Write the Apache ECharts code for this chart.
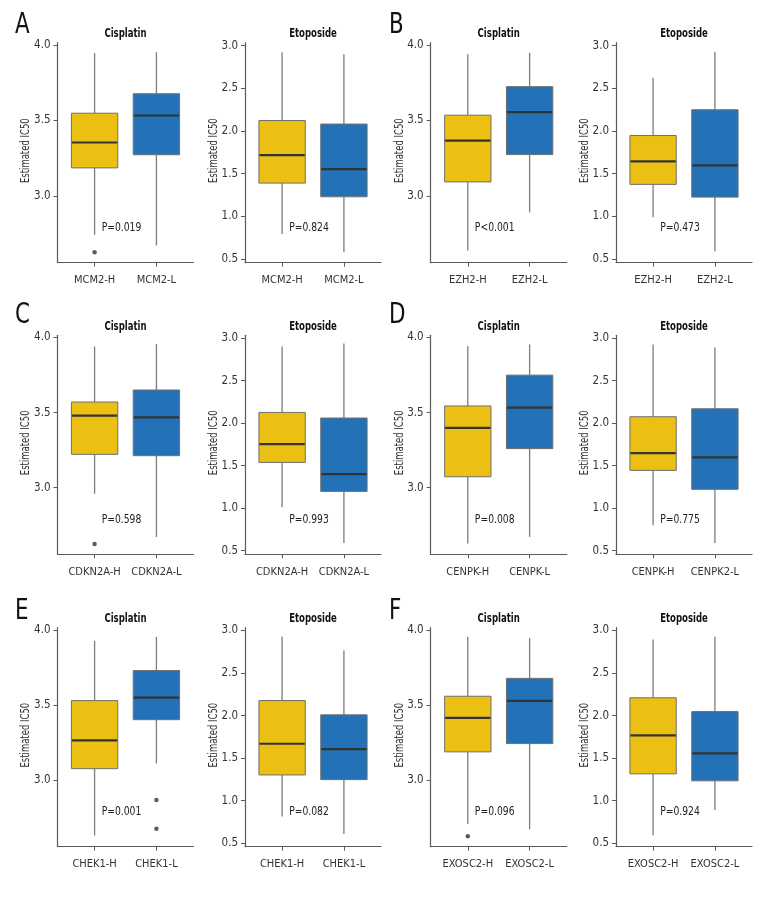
<!DOCTYPE html>
<html>
<head>
<meta charset="utf-8">
<script src="https://cdn.jsdelivr.net/npm/echarts@6/dist/echarts.min.js"></script>
<style>
  html, body { margin: 0; padding: 0; background: #fff; }
  #chart { width: 780px; height: 900px; }
</style>
</head>
<body>
<div id="chart"></div>
<script>
// ---------------- data ----------------
const panelLetters = ['A', 'B', 'C', 'D', 'E', 'F'];
const drugs = ['Cisplatin', 'Etoposide'];
const cisplatinGroups = [
  ['MCM2-H', 'MCM2-L'],
  ['EZH2-H', 'EZH2-L'],
  ['CDKN2A-H', 'CDKN2A-L'],
  ['CENPK-H', 'CENPK-L'],
  ['CHEK1-H', 'CHEK1-L'],
  ['EXOSC2-H', 'EXOSC2-L']
];
const etoposideGroups = [
  ['MCM2-H', 'MCM2-L'],
  ['EZH2-H', 'EZH2-L'],
  ['CDKN2A-H', 'CDKN2A-L'],
  ['CENPK-H', 'CENPK2-L'],
  ['CHEK1-H', 'CHEK1-L'],
  ['EXOSC2-H', 'EXOSC2-L']
];
// [min, Q1, median, Q3, max]
const cisplatinH = [
  [2.742, 3.185, 3.353, 3.547, 3.945],
  [2.637, 3.092, 3.365, 3.534, 3.938],
  [2.960, 3.222, 3.479, 3.570, 3.940],
  [2.629, 3.073, 3.398, 3.544, 3.942],
  [2.631, 3.076, 3.264, 3.529, 3.927],
  [2.708, 3.188, 3.414, 3.558, 3.954]
];
const cisplatinL = [
  [2.671, 3.272, 3.532, 3.676, 3.951],
  [2.890, 3.273, 3.554, 3.723, 3.947],
  [2.672, 3.213, 3.468, 3.650, 3.956],
  [2.673, 3.260, 3.533, 3.749, 3.953],
  [3.111, 3.402, 3.549, 3.729, 3.953],
  [2.673, 3.243, 3.527, 3.677, 3.945]
];
const etoposideH = [
  [0.793, 1.389, 1.717, 2.122, 2.922],
  [0.990, 1.374, 1.644, 1.946, 2.624],
  [1.009, 1.538, 1.754, 2.126, 2.902],
  [0.798, 1.444, 1.648, 2.075, 2.926],
  [0.813, 1.301, 1.668, 2.176, 2.930],
  [0.590, 1.314, 1.766, 2.209, 2.895]
];
const etoposideL = [
  [0.582, 1.229, 1.553, 2.080, 2.899],
  [0.590, 1.225, 1.597, 2.248, 2.926],
  [0.590, 1.197, 1.401, 2.060, 2.937],
  [0.590, 1.221, 1.597, 2.169, 2.890],
  [0.605, 1.246, 1.605, 2.008, 2.766],
  [0.889, 1.232, 1.555, 2.046, 2.926]
];
const cisplatinOutliersH = [[2.627], [], [2.625], [], [], [2.626]];
const cisplatinOutliersL = [[], [], [], [], [2.867, 2.676], []];
const etoposideOutliersH = [[], [], [], [], [], []];
const etoposideOutliersL = [[], [], [], [], [], []];
const cisplatinP = ['P=0.019', 'P<0.001', 'P=0.598', 'P=0.008', 'P=0.001', 'P=0.096'];
const etoposideP = ['P=0.824', 'P=0.473', 'P=0.993', 'P=0.775', 'P=0.082', 'P=0.924'];
const cisplatinTicks = [3.0, 3.5, 4.0];
const etoposideTicks = [0.5, 1.0, 1.5, 2.0, 2.5, 3.0];
const yAxisName = 'Estimated IC50';

// ---------------- layout / style ----------------
const FONT = "'Liberation Sans Narrow','DejaVu Sans Condensed','Roboto Condensed','Liberation Sans',sans-serif";
const colLeft = [57.5, 245, 430.7, 616];
const colWidth = 136;
const rowTop = [42.7, 335.3, 627.7];
const rowHeight = [220, 219, 219];
const letterY = [24, 314, 610];
const letterX = [15, 389];
const yRange = { Cisplatin: [2.557, 4.014], Etoposide: [0.457, 3.033] };
const YELLOW = '#EBC012';
const BLUE = '#2372B8';
const AXIS = '#5a5a5a';

const chart = echarts.init(document.getElementById('chart'), null, { renderer: 'canvas' });

const grids = [], xAxes = [], yAxes = [], series = [], graphics = [];

function renderBox(params, api) {
  const x = api.value(0);
  const lo = api.coord([x, api.value(1)]);
  const q1 = api.coord([x, api.value(2)]);
  const med = api.coord([x, api.value(3)]);
  const q3 = api.coord([x, api.value(4)]);
  const hi = api.coord([x, api.value(5)]);
  const w = api.size([0.75, 0])[0];
  const cx = lo[0];
  const fill = x === 1 ? YELLOW : BLUE;
  const whisker = { stroke: '#7d7d7d', lineWidth: 1.3 };
  return {
    type: 'group',
    children: [
      { type: 'line', shape: { x1: cx, y1: hi[1], x2: cx, y2: q3[1] }, style: whisker },
      { type: 'line', shape: { x1: cx, y1: q1[1], x2: cx, y2: lo[1] }, style: whisker },
      { type: 'rect', shape: { x: cx - w / 2, y: q3[1], width: w, height: q1[1] - q3[1] },
        style: { fill: fill, stroke: '#6f6f6f', lineWidth: 1 } },
      { type: 'line', shape: { x1: cx - w / 2 + 0.5, y1: med[1], x2: cx + w / 2 - 0.5, y2: med[1] },
        style: { stroke: '#333333', lineWidth: 2.2 } }
    ]
  };
}

for (let p = 0; p < 6; p++) {
  const row = Math.floor(p / 2);
  const pair = (p % 2) * 2;
  graphics.push({
    type: 'text', x: letterX[p % 2], y: letterY[row] + 1.5, scaleX: 0.85,
    style: { text: panelLetters[p], font: '28px ' + FONT, fill: '#111', align: 'left', verticalAlign: 'middle' }
  });
  drugs.forEach((drug, d) => {
    const gi = grids.length;
    const left = colLeft[pair + d];
    const top = rowTop[row];
    const height = rowHeight[row];
    const labels = d === 0 ? cisplatinGroups[p] : etoposideGroups[p];
    const statsH = d === 0 ? cisplatinH[p] : etoposideH[p];
    const statsL = d === 0 ? cisplatinL[p] : etoposideL[p];
    const outH = d === 0 ? cisplatinOutliersH[p] : etoposideOutliersH[p];
    const outL = d === 0 ? cisplatinOutliersL[p] : etoposideOutliersL[p];
    const ticks = d === 0 ? cisplatinTicks : etoposideTicks;
    const pText = d === 0 ? cisplatinP[p] : etoposideP[p];

    grids.push({ left: left, top: top, width: colWidth, height: height, containLabel: false });
    xAxes.push({
      type: 'value', gridIndex: gi, min: 0.4, max: 2.6,
      axisLine: { show: true, lineStyle: { color: AXIS, width: 1.2 } },
      axisTick: { show: true, length: 4, customValues: [1, 2], lineStyle: { color: AXIS } },
      axisLabel: {
        show: true, customValues: [1, 2], margin: 12,
        formatter: v => labels[Math.round(v) - 1],
        fontFamily: FONT, fontSize: 11, color: '#333'
      },
      splitLine: { show: false }
    });
    yAxes.push({
      type: 'value', gridIndex: gi, min: yRange[drug][0], max: yRange[drug][1],
      axisLine: { show: true, lineStyle: { color: AXIS, width: 1.2 } },
      axisTick: { show: true, length: 4, customValues: ticks, lineStyle: { color: AXIS } },
      axisLabel: {
        show: true, customValues: ticks, margin: 7,
        formatter: v => Number(v).toFixed(1),
        fontFamily: FONT, fontSize: 11.5, color: '#333'
      },
      splitLine: { show: false }
    });
    series.push({
      type: 'custom', xAxisIndex: gi, yAxisIndex: gi,
      renderItem: renderBox,
      dimensions: ['x', 'min', 'q1', 'median', 'q3', 'max'],
      encode: { x: 0, y: [1, 2, 3, 4, 5] },
      data: [[1].concat(statsH), [2].concat(statsL)],
      silent: true, animation: false
    });
    const outliers = outH.map(v => [1, v]).concat(outL.map(v => [2, v]));
    if (outliers.length) {
      series.push({
        type: 'scatter', xAxisIndex: gi, yAxisIndex: gi,
        data: outliers, symbol: 'circle', symbolSize: 4.5,
        itemStyle: { color: '#333' }, silent: true, animation: false
      });
    }
    graphics.push({
      type: 'text', x: left - 31, y: top + height / 2 - 2, rotation: Math.PI / 2, scaleX: 0.82,
      style: { text: yAxisName, font: '11.5px ' + FONT, fill: '#333', align: 'center', verticalAlign: 'middle' }
    });
    graphics.push({
      type: 'text', x: left + colWidth / 2, y: top - 9, scaleX: 0.76,
      style: { text: drug, font: 'bold 12.5px ' + FONT, fill: '#111', align: 'center', verticalAlign: 'middle' }
    });
    graphics.push({
      type: 'text', x: left + 64, y: top + height - 35, scaleX: 0.82,
      style: { text: pText, font: '12.5px ' + FONT, fill: '#222', align: 'center', verticalAlign: 'middle' }
    });
  });
}

chart.setOption({
  backgroundColor: '#ffffff',
  animation: false,
  grid: grids,
  xAxis: xAxes,
  yAxis: yAxes,
  series: series,
  graphic: graphics
});
</script>
</body>
</html>
